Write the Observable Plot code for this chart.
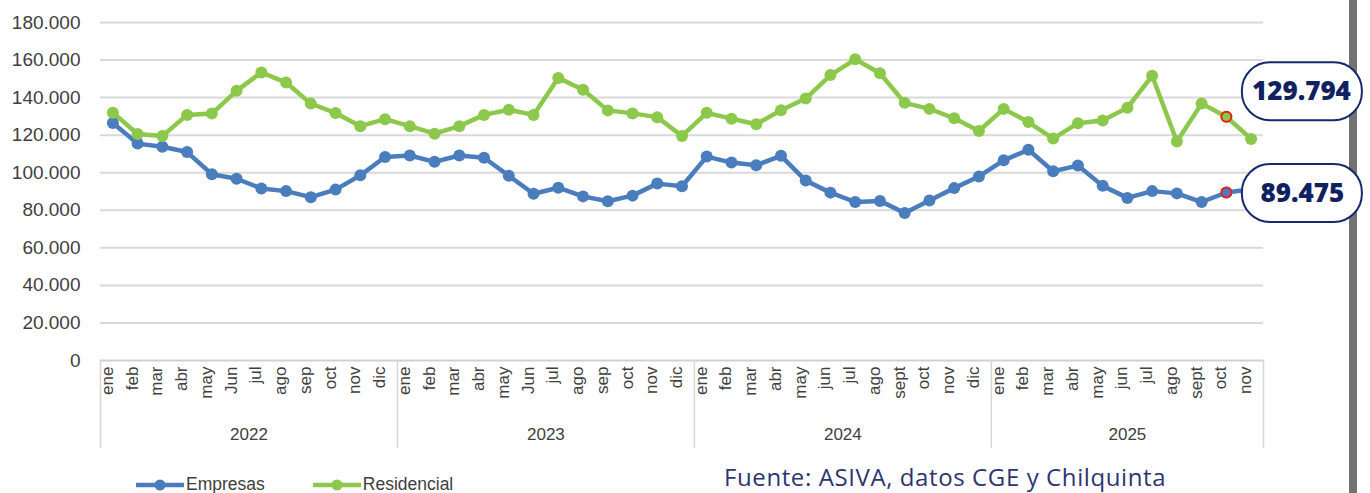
<!DOCTYPE html>
<html>
<head>
<meta charset="utf-8">
<script src="https://cdn.jsdelivr.net/npm/d3@7"></script>
<script src="https://cdn.jsdelivr.net/npm/@observablehq/plot@0.6"></script>
<style>
  html, body { margin: 0; padding: 0; background: #fff; }
  #wrap { position: relative; width: 1370px; height: 493px; overflow: hidden; background: #fff; }
  #chart { position: absolute; left: 0; top: 0; z-index: 2; }
  #legend { position: absolute; left: 136px; top: 474px; display: flex; align-items: center; z-index: 3;
    font-family: "Liberation Sans", Arial, sans-serif; font-size: 17.5px; color: #404040; }
  #legend .item { display: flex; align-items: center; margin-right: 48px; }
  #legend svg { margin-right: 2px; }
  #caption { position: absolute; left: 724px; top: 460px; font-family: "Open Sans", sans-serif; z-index: 3;
    font-size: 24px; letter-spacing: 0.6px; color: #2e3470; white-space: nowrap; }
  #edge { position: absolute; left: 1349px; top: 0; width: 8px; height: 493px; background: #727272; z-index: 1; }
</style>
</head>
<body>
<div id="wrap">
  <div id="edge"></div>
  <div id="chart"></div>
  <div id="legend"></div>
  <div id="caption">Fuente: ASIVA, datos CGE y Chilquinta</div>
</div>
<script>
// ---- data ----
const years = ["2022", "2023", "2024", "2025"];
const monthLabels = [
  ["ene","feb","mar","abr","may","Jun","jul","ago","sep","oct","nov","dic"],
  ["ene","feb","mar","abr","may","Jun","jul","ago","sep","oct","nov","dic"],
  ["ene","feb","mar","abr","may","jun","jul","ago","sept","oct","nov","dic"],
  ["ene","feb","mar","abr","may","jun","jul","ago","sept","oct","nov"]
];
const empresas = [
  126.5, 115.5, 113.8, 111.0, 99.2, 96.8, 91.6, 90.2, 87.0, 91.0, 98.6, 108.4,
  109.2, 105.8, 109.2, 108.0, 98.4, 88.8, 92.0, 87.4, 84.8, 87.8, 94.2, 92.8,
  108.6, 105.4, 104.0, 109.0, 95.8, 89.4, 84.4, 85.0, 78.6, 85.2, 91.8, 98.0,
  106.6, 112.2, 100.8, 103.8, 93.0, 86.6, 90.2, 89.0, 84.4, 89.475, 91.2
];
const residencial = [
  132.0, 120.6, 119.6, 130.8, 131.5, 143.6, 153.4, 148.0, 136.8, 131.8, 124.8, 128.5,
  124.8, 120.8, 124.8, 130.8, 133.5, 130.8, 150.5, 144.2, 133.2, 131.6, 129.6, 119.6,
  131.9, 128.8, 125.8, 133.3, 139.5, 152.0, 160.4, 153.0, 137.2, 134.0, 129.0, 122.2,
  134.0, 127.0, 118.2, 126.4, 127.8, 134.6, 151.6, 116.6, 136.8, 129.794, 118.0
];
const seriesNames = ["Empresas", "Residencial"];
const seriesColors = ["#4a7dbd", "#8cc84b"];
const highlightMonth = "oct";
const highlightYear = "2025";

// ---- build table ----
const months = [];
years.forEach((yr, yi) => monthLabels[yi].forEach(m => months.push({year: yr, month: m, i: months.length})));
const n = months.length;
const rows = [];
months.forEach((m, i) => {
  rows.push({...m, serie: seriesNames[0], value: empresas[i] * 1000});
  rows.push({...m, serie: seriesNames[1], value: residencial[i] * 1000});
});
const yearGroups = years.map(yr => {
  const ms = months.filter(m => m.year === yr);
  return {year: yr, start: ms[0].i - 0.5, end: ms[ms.length - 1].i + 0.5, mid: (ms[0].i + ms[ms.length - 1].i) / 2};
});
const separators = [...yearGroups.map(g => g.start), yearGroups[yearGroups.length - 1].end];
const highlight = rows.filter(r => r.month === highlightMonth && r.year === highlightYear);
const hiEmp = highlight.filter(r => r.serie === "Empresas");
const hiRes = highlight.filter(r => r.serie === "Residencial");
const fmt = v => d3.format(",.0f")(v).replace(/,/g, ".");
const fmt3 = v => d3.format(",.3f")(v).replace(/,/g, ".");

const color = {domain: seriesNames, range: seriesColors};

const chart = Plot.plot({
  width: 1370,
  height: 493,
  marginLeft: 100,
  marginRight: 107,
  marginTop: 22,
  marginBottom: 133,
  style: {fontFamily: "'Liberation Sans', Arial, sans-serif", background: "transparent", overflow: "visible"},
  x: {type: "linear", domain: [-0.5, n - 0.5], axis: null},
  y: {domain: [0, 180000], axis: null},
  color,
  marks: [
    Plot.gridY(d3.range(20000, 180001, 20000), {stroke: "#d9d9d9", strokeOpacity: 1, strokeWidth: 2}),
    Plot.ruleY([0], {stroke: "#d0d0d0", strokeWidth: 2}),
    Plot.axisY(d3.range(0, 180001, 20000), {tickSize: 0, tickPadding: 20, fontSize: 19, fill: "#404040",
      tickFormat: fmt, label: null}),
    Plot.ruleX(separators, {stroke: "#d6d6d6", strokeWidth: 1.5, insetTop: 338, insetBottom: -88}),
    Plot.text(months, {x: "i", text: "month", frameAnchor: "bottom", rotate: -90, textAnchor: "end",
      dy: 6, fontSize: 17, fill: "#404040"}),
    Plot.text(yearGroups, {x: "mid", text: "year", frameAnchor: "bottom", dy: 79, fontSize: 17, fill: "#404040"}),
    Plot.line(rows, {x: "i", y: "value", z: "serie", stroke: "serie", strokeWidth: 4.5, strokeLinejoin: "round"}),
    Plot.dot(rows, {x: "i", y: "value", fill: "serie", r: 6}),
    Plot.dot(highlight, {x: "i", y: "value", fill: "serie", stroke: "#f21d1d", strokeWidth: 2, r: 5}),
    // callouts
    Plot.rect(hiRes, {x1: "i", x2: "i", y1: "value", y2: "value", fill: "#fff", stroke: "#16296b", strokeWidth: 2,
      rx: 28, insetLeft: 16, insetRight: -136, insetTop: -54, insetBottom: -4}),
    Plot.text(hiRes, {x: "i", y: "value", text: d => fmt3(d.value / 1000), dx: 75, dy: -25,
      fontSize: 26, fontWeight: 800, fill: "#0f2160", fontFamily: "'Open Sans', sans-serif"}),
    Plot.rect(hiEmp, {x1: "i", x2: "i", y1: "value", y2: "value", fill: "#fff", stroke: "#16296b", strokeWidth: 2,
      rx: 28, insetLeft: 16, insetRight: -136, insetTop: -28, insetBottom: -30}),
    Plot.text(hiEmp, {x: "i", y: "value", text: d => fmt3(d.value / 1000), dx: 76, dy: 1,
      fontSize: 26, fontWeight: 800, fill: "#0f2160", fontFamily: "'Open Sans', sans-serif"})
  ]
});
document.getElementById("chart").appendChild(chart);

// legend
const legend = document.getElementById("legend");
seriesNames.forEach((s, k) => {
  const item = document.createElement("div");
  item.className = "item";
  item.innerHTML = `<svg width="48" height="14"><line x1="1" y1="7" x2="47" y2="7" stroke="${seriesColors[k]}" stroke-width="4.5" stroke-linecap="round"/><circle cx="24" cy="7" r="5.5" fill="${seriesColors[k]}"/></svg><span>${s}</span>`;
  legend.appendChild(item);
});
</script>
</body>
</html>
